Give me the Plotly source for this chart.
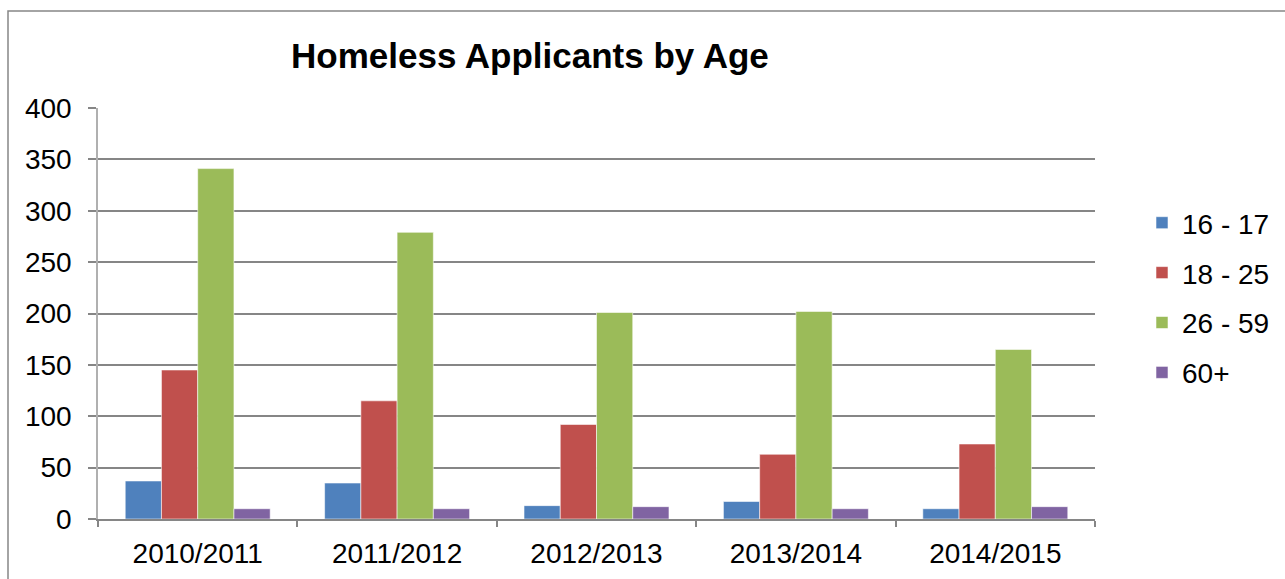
import plotly.graph_objects as go

# Applicants by financial year and age band
years = ["2010/2011", "2011/2012", "2012/2013", "2013/2014", "2014/2015"]
age_16_17 = [37, 35, 13, 17, 10]
age_18_25 = [145, 115, 92, 63, 73]
age_26_59 = [341, 279, 201, 202, 165]
age_60_plus = [10, 10, 12, 10, 12]

series = [
    ("16 - 17", age_16_17, "#4F81BD"),
    ("18 - 25", age_18_25, "#C0504D"),
    ("26 - 59", age_26_59, "#9BBB59"),
    ("60+", age_60_plus, "#8064A2"),
]

W, H = 1285, 579
L, R, T, B = 98, 190, 108, 60
plot_w = W - L - R
plot_h = H - T - B

FONT = "Liberation Sans, Arial, sans-serif"
GRID = "#868686"

fig = go.Figure()
for name, vals, color in series:
    fig.add_trace(go.Bar(
        x=years, y=vals, name=name, legendgroup=name,
        marker=dict(color=color, line=dict(color="rgba(255,255,255,0.55)", width=1)),
    ))


def px_x(px):
    return (px - L) / plot_w


def px_y(py):
    return (H - B - py) / plot_h


fig.update_layout(
    width=W, height=H,
    margin=dict(l=L, r=R, t=T, b=B, pad=0),
    paper_bgcolor="white", plot_bgcolor="white",
    font=dict(family=FONT, size=28, color="black"),
    barmode="group", bargap=0.273, bargroupgap=0,
    showlegend=True,
    legend=dict(
        xref="container", yref="container",
        x=1142 / W, xanchor="left", y=1 - 298 / H, yanchor="middle",
        font=dict(family=FONT, size=28, color="black"),
        tracegroupgap=10.5, itemwidth=30, bgcolor="rgba(0,0,0,0)",
    ),
    xaxis=dict(
        showline=True, linecolor=GRID, linewidth=1.5,
        ticks="outside", tickson="boundaries", ticklen=6, tickcolor=GRID, tickwidth=1.5,
        showgrid=False, ticklabelstandoff=9, automargin=False,
        tickfont=dict(family=FONT, size=28, color="black"),
    ),
    yaxis=dict(
        range=[0, 400], tick0=0, dtick=50,
        showline=True, linecolor="#b0b0b0", linewidth=1.5,
        ticks="outside", ticklen=8, tickcolor=GRID, tickwidth=1.5,
        showgrid=True, gridcolor=GRID, gridwidth=1.5,
        zeroline=False, ticklabelstandoff=11, automargin=False,
        tickfont=dict(family=FONT, size=28, color="black"),
    ),
    annotations=[dict(
        text="<b>Homeless Applicants by Age</b>",
        xref="paper", yref="paper",
        x=px_x(529.5), y=px_y(56), xanchor="center", yanchor="middle",
        showarrow=False, font=dict(family=FONT, size=35, color="black"),
    )],
    shapes=[dict(
        type="rect", xref="paper", yref="paper",
        x0=px_x(8), x1=px_x(W + 10), y0=px_y(H + 10), y1=px_y(11),
        line=dict(color=GRID, width=1.5), fillcolor="rgba(0,0,0,0)", layer="below",
    )],
)

fig.write_html("out.html")
